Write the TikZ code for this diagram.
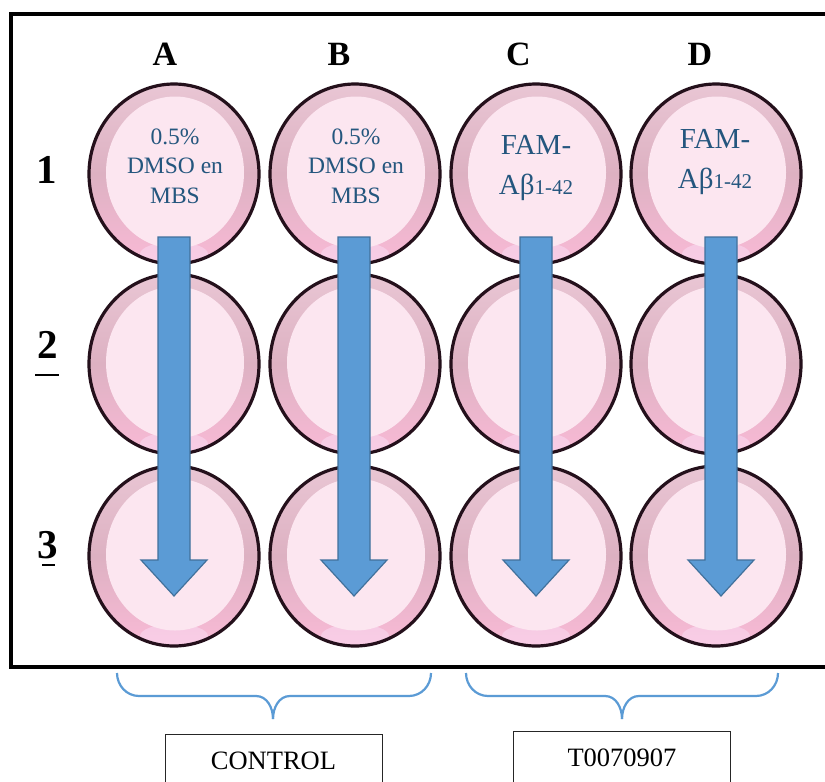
\documentclass[tikz,border=0pt]{standalone}
\usepackage{fontspec}
\setmainfont{Liberation Serif}
\usetikzlibrary{shapes.geometric}
\definecolor{wellline}{HTML}{24101B}
\definecolor{ringtop}{HTML}{E9C6D4}
\definecolor{ringmid}{HTML}{DDB1C2}
\definecolor{ringbot}{HTML}{F9BAD6}
\definecolor{wellin}{HTML}{FCE6F0}
\definecolor{ringhi}{HTML}{FBE4FA}
\definecolor{txtblue}{HTML}{24567E}
\definecolor{arrfill}{HTML}{5B9BD5}
\definecolor{arrline}{HTML}{41719C}
\definecolor{bracec}{HTML}{5B9BD5}
\tikzset{
  well/.style={ellipse, draw=wellline, line width=3.2pt, inner sep=0pt,
    minimum width=170pt, minimum height=180pt,
    top color=ringtop, bottom color=ringbot, middle color=ringmid,
    path picture={
      \fill[ringhi, opacity=0.45] ([yshift=-80pt]path picture bounding box.center) ellipse [x radius=34pt, y radius=12pt];
      \fill[wellin] ([xshift=1pt,yshift=1.5pt]path picture bounding box.center) ellipse [x radius=69pt, y radius=76pt];}},
  coltxt/.style={font=\rmfamily\bfseries\fontsize{34}{40}\selectfont, anchor=base, inner sep=0pt},
  rowtxt/.style={font=\rmfamily\bfseries\fontsize{41}{48}\selectfont, anchor=base, inner sep=0pt},
  dmso/.style={text=txtblue, align=center, inner sep=0pt, font=\rmfamily\mdseries\fontsize{23.5}{29.5}\selectfont},
  fam/.style={text=txtblue, align=center, inner sep=0pt, font=\rmfamily\mdseries\fontsize{29}{40}\selectfont},
  flowarrow/.style={fill=arrfill, draw=arrline, line width=1.2pt, line join=miter},
  bracket/.style={draw=bracec, line width=2.2pt},
  labelbox/.style={draw=black!85, line width=1pt, inner sep=0pt, minimum width=217pt, minimum height=53pt, font=\rmfamily\fontsize{26.5}{30}\selectfont}
}
\begin{document}
\begin{tikzpicture}[x=1pt,y=-1pt]
\useasboundingbox (0,0) rectangle (825,782);
\fill[white] (0,0) rectangle (825,782);
% frame
\draw[line width=4pt] (850,14) -- (11,14) -- (11,667) -- (850,667);
% column letters
\node[coltxt] (lA) at (165,65) {A};
\node[coltxt] (lB) at (339,65) {B};
\node[coltxt] (lC) at (518.5,65) {C};
\node[coltxt] (lD) at (700,65) {D};
% row numbers
\node[rowtxt] (r1) at (47,183) {1};
\node[rowtxt] (r2) at (48,358) {2};
\node[rowtxt] (r3) at (48,558) {3};
\draw[line width=1.5pt] (35,375) -- (59,375);
\draw[line width=2.5pt] (42,565) -- (55,565);
% wells
\foreach \c/\x in {A/174,B/355,C/536,D/716}{
  \foreach \r/\y in {1/174,2/364,3/556}{
    \node[well] (w\c\r) at (\x,\y) {};
  }
}
% well texts
\node[dmso] (tA) at (175,166) {0.5\%\\DMSO en\\MBS};
\node[dmso] (tB) at (356,166) {0.5\%\\DMSO en\\MBS};
\node[fam] (tC) at (536,168) {FAM-\\Aβ{\fontsize{21}{24}\selectfont 1-42}};
\node[fam] (tD) at (715,162) {FAM-\\Aβ{\fontsize{21}{24}\selectfont 1-42}};
% arrows
\foreach \x in {174,354,536,721}{
  \draw[flowarrow] (\x-16,237) -- (\x+16,237) -- (\x+16,560) -- (\x+33,560) -- (\x,596) -- (\x-33,560) -- (\x-16,560) -- cycle;
}
% braces
\coordinate (b1l) at (117,673);
\coordinate (b1m) at (273,719);
\coordinate (b1r) at (431,673);
\coordinate (b2l) at (466,673);
\coordinate (b2m) at (622,719);
\coordinate (b2r) at (778,673);
\draw[bracket] (b1l) to[out=-90,in=180] (139,696) -- (256,696) to[out=0,in=90] (b1m);
\draw[bracket] (b1m) to[out=90,in=180] (290,696) -- (409,696) to[out=0,in=-90] (b1r);
\draw[bracket] (b2l) to[out=-90,in=180] (488,696) -- (605,696) to[out=0,in=90] (b2m);
\draw[bracket] (b2m) to[out=90,in=180] (639,696) -- (756,696) to[out=0,in=-90] (b2r);
% label boxes
\node[labelbox] (ctrl) at (273.5,760.5) {CONTROL};
\node[labelbox] (tcmp) at (622,757.5) {T0070907};
\end{tikzpicture}
\end{document}
